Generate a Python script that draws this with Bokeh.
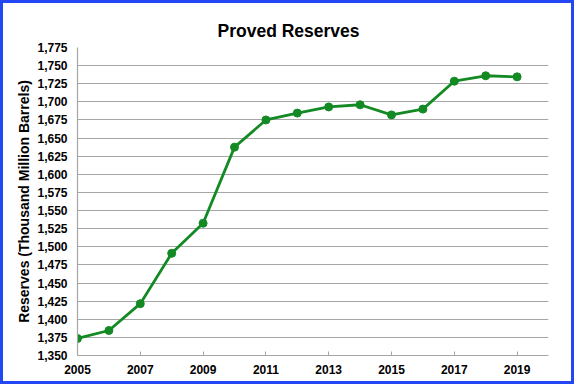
from bokeh.plotting import figure
from bokeh.models import NumeralTickFormatter, FixedTicker, Range1d
from bokeh.embed import file_html
from bokeh.resources import INLINE

years = [2005, 2006, 2007, 2008, 2009, 2010, 2011, 2012, 2013, 2014, 2015, 2016, 2017, 2018, 2019]
reserves = [1373.5, 1384.5, 1421.5, 1491.0, 1532.5, 1637.5, 1675.0, 1684.5, 1693.0, 1696.0, 1682.0, 1690.0, 1728.5, 1736.0, 1734.5]
x_ticks = [2005, 2007, 2009, 2011, 2013, 2015, 2017, 2019]
y_ticks = list(range(1350, 1776, 25))

title_text = "Proved Reserves"
y_label = "Reserves (Thousand Million Barrels)"

FONT = "Liberation Sans"
GREEN = "#138A24"
GRID = "#A6A6A6"
BORDER = "#2447F5"

p = figure(width=574, height=384, output_backend="svg", toolbar_location=None,
           x_range=Range1d(2005, 2020), y_range=Range1d(1350, 1775),
           min_border_left=74, min_border_right=29, min_border_top=44, min_border_bottom=32,
           title=title_text)
p.styles = {"border": "3px solid " + BORDER}

p.title.text_font = FONT
p.title.text_font_size = "17.5px"
p.title.text_font_style = "bold"
p.title.text_color = "black"
p.title.align = "left"
p.title.offset = 140
p.title.standoff = 13

p.outline_line_color = None
p.background_fill_color = "white"
p.border_fill_color = "white"

p.xgrid.grid_line_color = None
p.ygrid.grid_line_color = GRID
p.ygrid.grid_line_width = 1.2

p.xaxis.ticker = FixedTicker(ticks=x_ticks)
p.yaxis.ticker = FixedTicker(ticks=y_ticks)
p.yaxis.formatter = NumeralTickFormatter(format="0,0")

for ax in (p.xaxis[0], p.yaxis[0]):
    ax.axis_line_color = GRID
    ax.axis_line_width = 1.2
    ax.major_tick_line_color = GRID
    ax.minor_tick_line_color = None
    ax.major_label_text_font = FONT
    ax.major_label_text_font_size = "12px"
    ax.major_label_text_font_style = "bold"
    ax.major_label_text_color = "black"

p.xaxis.major_tick_in = 4
p.xaxis.major_tick_out = 0
p.xaxis.major_label_standoff = 9
p.yaxis.major_tick_in = 0
p.yaxis.major_tick_out = 0
p.yaxis.major_label_standoff = 10

p.yaxis.axis_label = y_label
p.yaxis.axis_label_text_font = FONT
p.yaxis.axis_label_text_font_size = "14px"
p.yaxis.axis_label_text_font_style = "bold"
p.yaxis.axis_label_text_color = "black"
p.yaxis.axis_label_standoff = 2

p.line(years, reserves, line_color=GREEN, line_width=2.8)
p.scatter(years, reserves, size=8, fill_color=GREEN, line_color=GREEN)

open("out.html", "w").write(file_html(p, INLINE))
